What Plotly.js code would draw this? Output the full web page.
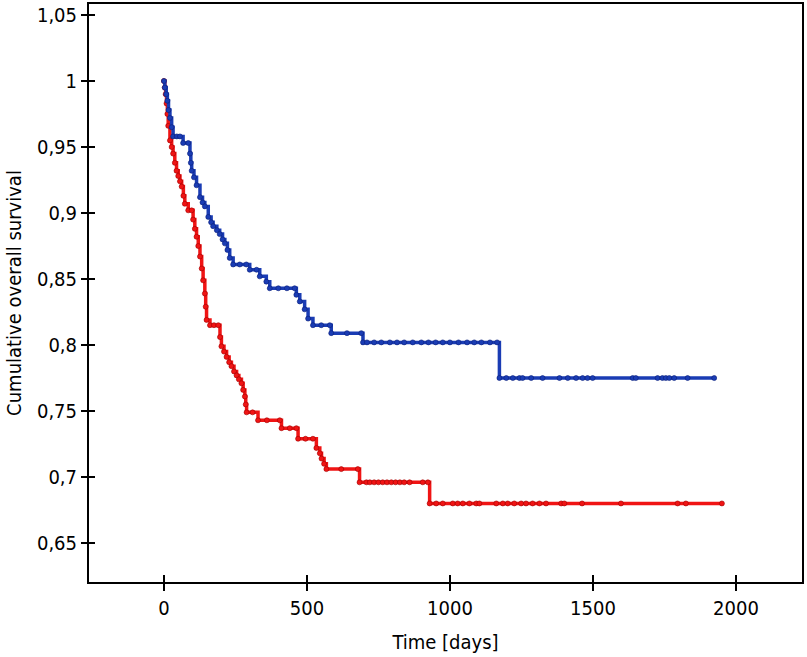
<!DOCTYPE html>
<html>
<head>
<meta charset="utf-8">
<script src="https://cdn.plot.ly/plotly-3.0.1.min.js"></script>
<style>
  body { margin: 0; background: #fff; }
  #chart { width: 807px; height: 657px; }
</style>
</head>
<body>
<div id="chart"></div>
<script>
// Kaplan-Meier steps (time in days, cumulative survival)
var blueT = [0, 3, 8, 12, 16, 21, 27, 32, 45, 56, 67, 85, 91, 94, 97, 105, 114, 126, 135, 143,
  155, 165, 172, 185, 195, 205, 213, 222, 230, 242, 265, 288, 300, 324, 335, 358, 370, 400, 430, 457,
  463, 475, 492, 504, 521, 550, 580, 585, 640, 690, 696, 710, 735, 760, 790, 815, 840, 870, 900,
  925, 950, 975, 1000, 1030, 1060, 1085, 1110, 1140, 1165, 1173, 1197, 1220, 1243, 1254, 1284, 1324,
  1383, 1412, 1441, 1464, 1481, 1499, 1639, 1650, 1726, 1743, 1755, 1767, 1784, 1831, 1924];
var blueS = [1.0, 0.995, 0.99, 0.985, 0.978, 0.972, 0.965, 0.958, 0.958, 0.958, 0.953, 0.953, 0.945, 0.938, 0.932, 0.927, 0.921, 0.912, 0.908, 0.905,
  0.897, 0.893, 0.89, 0.887, 0.884, 0.88, 0.877, 0.872, 0.866, 0.861, 0.861, 0.861, 0.857, 0.857, 0.852, 0.848, 0.843, 0.843, 0.843, 0.843,
  0.838, 0.833, 0.827, 0.82, 0.815, 0.815, 0.815, 0.809, 0.809, 0.809, 0.802, 0.802, 0.802, 0.802, 0.802, 0.802, 0.802, 0.802, 0.802,
  0.802, 0.802, 0.802, 0.802, 0.802, 0.802, 0.802, 0.802, 0.802, 0.802, 0.775, 0.775, 0.775, 0.775, 0.775, 0.775, 0.775,
  0.775, 0.775, 0.775, 0.775, 0.775, 0.775, 0.775, 0.775, 0.775, 0.775, 0.775, 0.775, 0.775, 0.775, 0.775];

var redT = [0, 3, 6, 9, 12, 15, 21, 27, 32, 38, 44, 50, 56, 62, 68, 73, 85, 97, 102, 108,
  114, 120, 126, 132, 137, 143, 146, 149, 161, 175, 190, 196, 201, 210, 219, 228, 236, 245, 254, 262,
  271, 277, 283, 286, 289, 310, 329, 360, 405, 411, 440, 463, 469, 495, 521, 533, 545, 551, 560, 568,
  620, 678, 684, 708, 720, 735, 750, 765, 780, 795, 810, 825, 840, 859, 905, 923, 929, 952, 975, 1010,
  1027, 1045, 1068, 1092, 1103, 1162, 1185, 1202, 1225, 1249, 1266, 1289, 1313, 1336, 1389, 1400, 1462, 1598,
  1796, 1825, 1951];
var redS = [1.0, 0.995, 0.99, 0.983, 0.975, 0.966, 0.955, 0.95, 0.945, 0.938, 0.932, 0.928, 0.924, 0.92, 0.913, 0.907, 0.902, 0.902, 0.895, 0.888,
  0.882, 0.875, 0.867, 0.858, 0.849, 0.839, 0.829, 0.819, 0.815, 0.815, 0.815, 0.806, 0.799, 0.795, 0.791, 0.787, 0.784, 0.78, 0.777, 0.774,
  0.771, 0.766, 0.761, 0.755, 0.749, 0.749, 0.743, 0.743, 0.743, 0.737, 0.737, 0.737, 0.729, 0.729, 0.729, 0.722, 0.718, 0.714, 0.71, 0.706,
  0.706, 0.706, 0.696, 0.696, 0.696, 0.696, 0.696, 0.696, 0.696, 0.696, 0.696, 0.696, 0.696, 0.696, 0.696, 0.696, 0.68, 0.68, 0.68, 0.68,
  0.68, 0.68, 0.68, 0.68, 0.68, 0.68, 0.68, 0.68, 0.68, 0.68, 0.68, 0.68, 0.68, 0.68, 0.68, 0.68, 0.68, 0.68,
  0.68, 0.68, 0.68];

var xTicks = [0, 500, 1000, 1500, 2000];
var yTicks = [0.65, 0.7, 0.75, 0.8, 0.85, 0.9, 0.95, 1, 1.05];

var fnt = '"DejaVu Sans Condensed", "Liberation Sans Narrow", "Liberation Sans", sans-serif';

function kmTrace(t, s, col, edge){
  return {
    type: 'scatter',
    mode: 'lines+markers',
    x: t,
    y: s,
    line: { shape: 'hv', color: col, width: 3.5 },
    marker: { size: 5, color: col, line: { color: edge, width: 0.6 } },
    hoverinfo: 'x+y',
    showlegend: false
  };
}

var data = [
  kmTrace(redT, redS, '#f01414', '#a00000'),
  kmTrace(blueT, blueS, '#1a3cb4', '#0a1e78'),
  // empty trace so the overlay axes (ticks crossing the frame) get drawn
  { type: 'scatter', x: [], y: [], xaxis: 'x2', yaxis: 'y2', showlegend: false, hoverinfo: 'skip' }
];

var xr = [-262, 2231];
var yr = [0.6205, 1.0583];

var layout = {
  width: 807,
  height: 657,
  margin: { l: 89, r: 5, t: 4, b: 75 },
  paper_bgcolor: '#fff',
  plot_bgcolor: '#fff',
  separators: ', ',
  font: { family: fnt, color: '#000', size: 20 },
  xaxis: {
    range: xr, tickvals: xTicks, ticks: 'outside', ticklen: 7, tickwidth: 2, tickcolor: '#000',
    showline: true, linecolor: '#000', linewidth: 2, mirror: true,
    showgrid: false, zeroline: false,
    tickfont: { family: fnt, size: 20 },
    title: { text: 'Time [days]', font: { family: fnt, size: 20 }, standoff: 16 }
  },
  yaxis: {
    range: yr, tickvals: yTicks, ticks: 'outside', ticklen: 6, tickwidth: 2, tickcolor: '#000',
    showline: true, linecolor: '#000', linewidth: 2, mirror: true,
    showgrid: false, zeroline: false,
    tickfont: { family: fnt, size: 20 },
    title: { text: 'Cumulative overall survival', font: { family: fnt, size: 20 }, standoff: 10 }
  },
  xaxis2: {
    overlaying: 'x', anchor: 'y2', side: 'bottom', range: xr, tickvals: xTicks,
    ticks: 'inside', ticklen: 7, tickwidth: 2, tickcolor: '#000',
    showticklabels: false, showline: false, showgrid: false, zeroline: false
  },
  yaxis2: {
    overlaying: 'y', anchor: 'x2', side: 'left', range: yr, tickvals: yTicks,
    ticks: 'inside', ticklen: 6, tickwidth: 2, tickcolor: '#000',
    showticklabels: false, showline: false, showgrid: false, zeroline: false
  }
};

Plotly.newPlot('chart', data, layout, { displayModeBar: false, staticPlot: true });
</script>
</body>
</html>
